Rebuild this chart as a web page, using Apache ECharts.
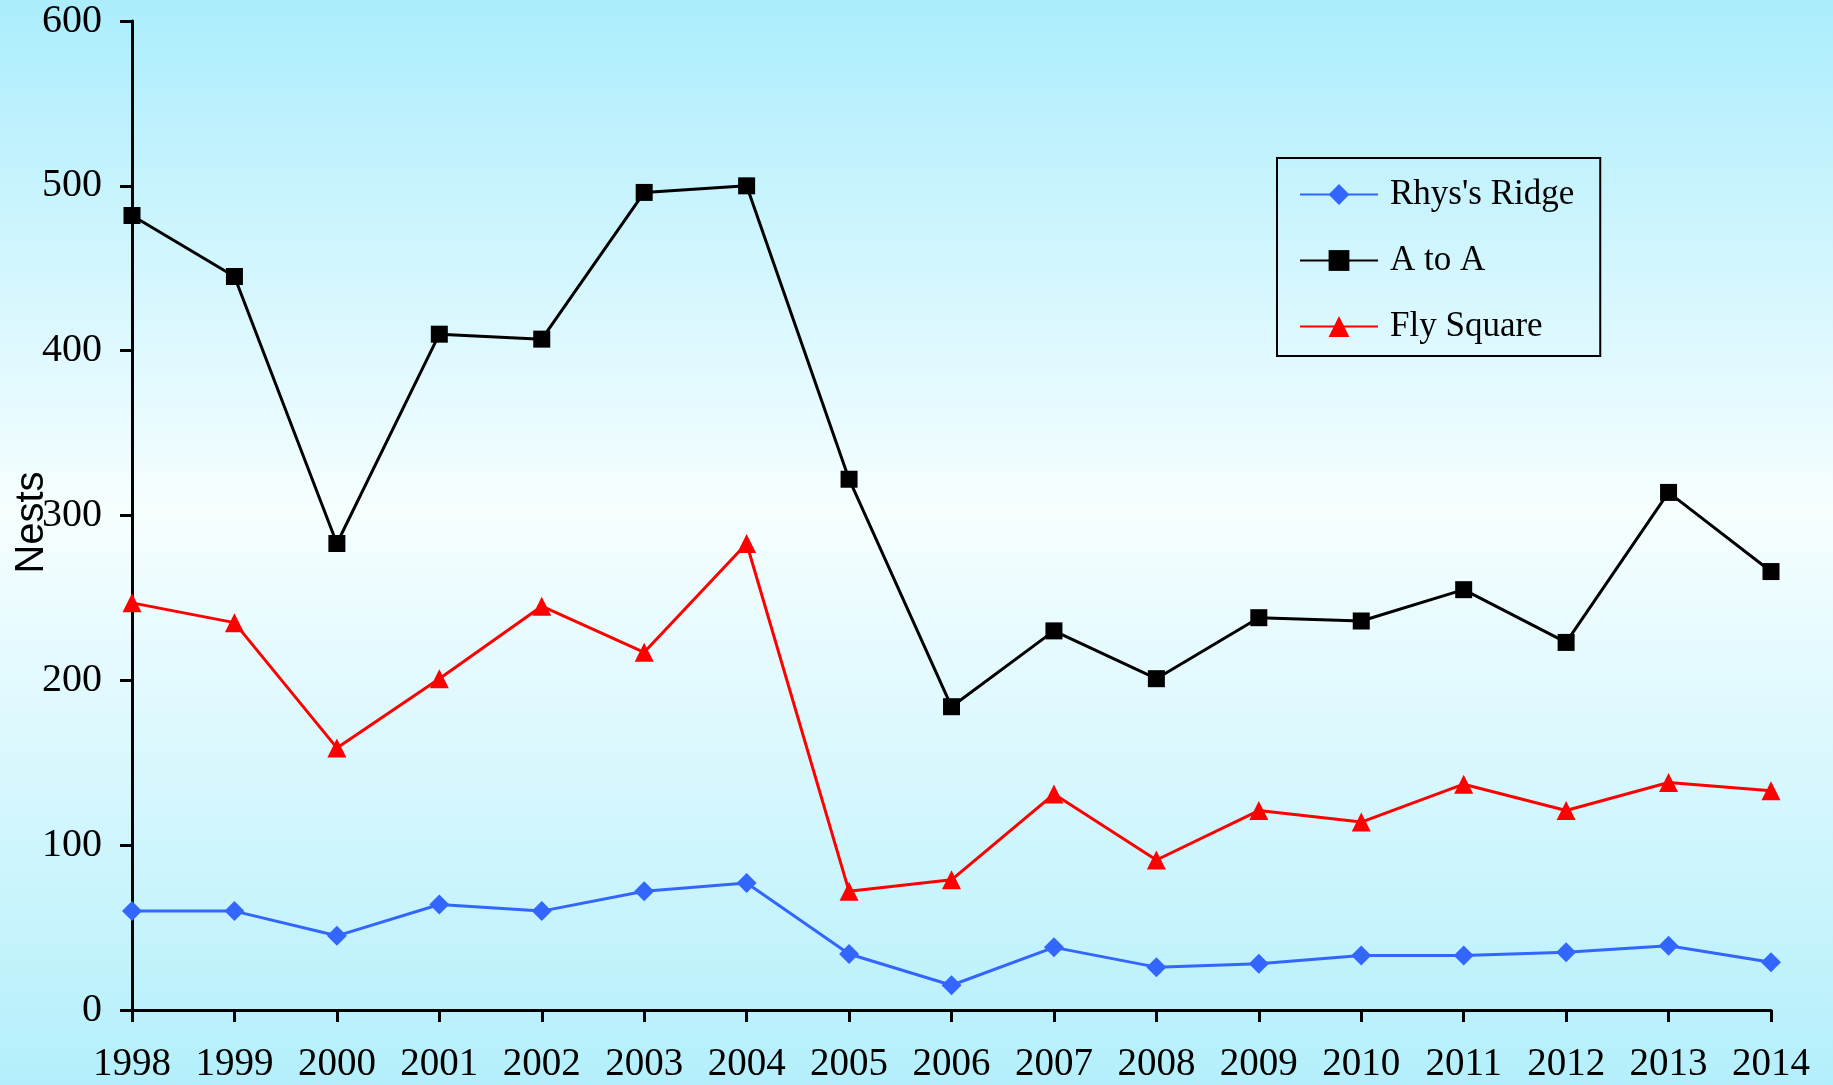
<!DOCTYPE html>
<html>
<head>
<meta charset="utf-8">
<script src="https://cdn.jsdelivr.net/npm/echarts@6/dist/echarts.min.js"></script>
<style>
  html, body { margin: 0; padding: 0; }
  #chart { width: 1833px; height: 1085px; }
</style>
</head>
<body>
<div id="chart"></div>
<script>
const years = ['1998', '1999', '2000', '2001', '2002', '2003', '2004', '2005', '2006',
  '2007', '2008', '2009', '2010', '2011', '2012', '2013', '2014']
const rhysRidge = [60, 60, 45, 64, 60, 72, 77, 34, 15, 38, 26, 28, 33, 33, 35, 39, 29]
const aToA = [482, 445, 283, 410, 407, 496, 500, 322, 184, 230, 201, 238, 236, 255, 223, 314, 266]
const flySquare = [247, 235, 159, 201, 245, 217, 283, 72, 79, 131, 91, 121, 114, 137, 121, 138, 133]

const serif = '"Liberation Serif", "Times New Roman", serif'

const chart = echarts.init(document.getElementById('chart'))

function lineSeries(name, data, color, symbol, size) {
  return {
    name,
    type: 'line',
    data,
    symbol,
    symbolSize: size,
    showAllSymbol: true,
    lineStyle: { color, width: 3 },
    itemStyle: { color },
    animation: false
  }
}

chart.setOption({
  backgroundColor: {
    type: 'linear', x: 0, y: 0, x2: 0, y2: 1,
    colorStops: [
      { offset: 0, color: '#abedfc' },
      { offset: 0.47, color: '#f6feff' },
      { offset: 1, color: '#b3effb' }
    ]
  },
  grid: { left: 132, top: 21, right: 62, bottom: 75, outerBoundsMode: 'none' },
  legend: {
    orient: 'vertical',
    left: 1277,
    top: 158,
    padding: [19, 26, 12, 22],
    itemWidth: 78,
    itemHeight: 26,
    itemGap: 31,
    borderColor: '#000',
    borderWidth: 2,
    borderRadius: 0,
    textStyle: { fontFamily: serif, fontSize: 35, color: '#000', lineHeight: 34, padding: [0, 0, 0, 7] },
    data: ['Rhys\'s Ridge', 'A to A', 'Fly Square']
  },
  xAxis: {
    type: 'category',
    data: years,
    boundaryGap: false,
    axisLine: { lineStyle: { color: '#000', width: 3 } },
    axisTick: { alignWithLabel: true, length: 12, lineStyle: { width: 3 } },
    axisLabel: { fontFamily: serif, fontSize: 39, color: '#000', margin: 35 },
    splitLine: { show: false }
  },
  yAxis: {
    type: 'value',
    min: 0,
    max: 600,
    interval: 100,
    name: 'Nests',
    nameLocation: 'middle',
    nameGap: 80,
    nameMoveOverlap: false,
    nameTextStyle: {
      fontFamily: '"Liberation Sans", Arial, sans-serif',
      fontSize: 40,
      color: '#000',
      padding: [0, 14, 0, 0]
    },
    axisLine: { show: true, lineStyle: { color: '#000', width: 3 } },
    axisTick: { show: true, length: 12, lineStyle: { width: 3 } },
    axisLabel: { fontFamily: serif, fontSize: 40, color: '#000', margin: 30 },
    splitLine: { show: false }
  },
  series: [
    lineSeries('Rhys\'s Ridge', rhysRidge, '#3366ff', 'diamond', 20),
    lineSeries('A to A', aToA, '#000000', 'rect', 17),
    lineSeries('Fly Square', flySquare, '#ff0000', 'triangle', 19)
  ]
})
</script>
</body>
</html>
